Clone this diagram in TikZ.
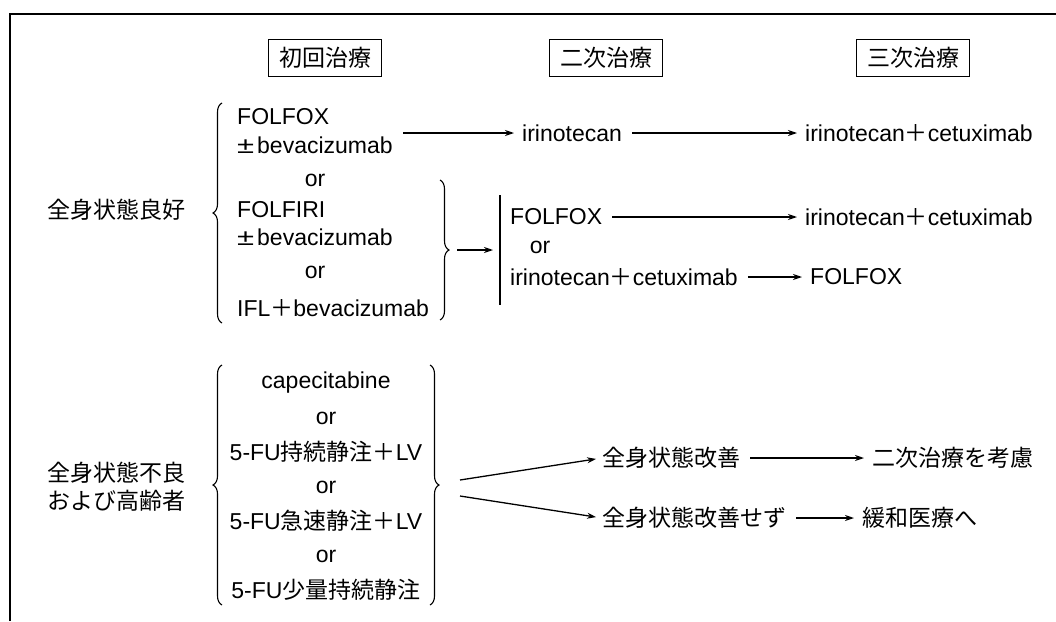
\documentclass[tikz,border=0pt]{standalone}
\usepackage{fontspec}
\usepackage{graphicx}
\setmainfont{Liberation Sans}
\newfontfamily\jp{Noto Sans CJK JP}
\usetikzlibrary{arrows.meta,decorations.pathreplacing}
\newcommand{\pls}{{\jp ＋}}
\newcommand{\pmw}{\makebox[20pt][l]{\scalebox{1.35}[1]{±}}}
\begin{document}
\begin{tikzpicture}[x=1pt,y=-1pt,
  base/.style={inner sep=0pt, font=\fontsize{23}{27}\selectfont},
  lbl/.style={base, anchor=west},
  ctr/.style={base},
  jtext/.style={inner sep=0pt, font=\jp\fontsize{23}{28}\selectfont},
  jlbl/.style={jtext, anchor=west},
  hdr/.style={draw, line width=1.1pt, font=\jp\fontsize{23}{27}\selectfont, minimum width=113pt, minimum height=37pt, inner sep=0pt},
  conn/.style={line width=1.3pt, -{Stealth[length=9pt,width=6pt]}},
  brc/.style={line width=1.1pt, decorate, decoration={brace, amplitude=9pt}},
  rulel/.style={line width=1.2pt}
]
\useasboundingbox (0,0) rectangle (1056,621);
% frame
\coordinate (fb) at (10,621);
\coordinate (fc) at (10,14);
\coordinate (fr) at (1056,14);
\draw[line width=1.5pt] (fb) -- (fc) -- (fr);

% headers
\node[hdr] (h1) at (325,58) {初回治療};
\node[hdr] (h2) at (606,58) {二次治療};
\node[hdr] (h3) at (913,58) {三次治療};

% group 1
\node[jtext] (g1) at (116,210) {全身状態良好};
\node[lbl] (a1) at (237,117) {FOLFOX};
\node[lbl] (a2) at (237,145) {\pmw bevacizumab};
\node[ctr] (or1) at (315,180) {or};
\node[lbl] (a3) at (237,210) {FOLFIRI};
\node[lbl] (a4) at (237,237) {\pmw bevacizumab};
\node[ctr] (or2) at (315,272) {or};
\node[lbl] (a5) at (237,308) {IFL\pls bevacizumab};
\coordinate (b1s) at (222,323);
\coordinate (b1e) at (222,103);
\draw[brc] (b1s) -- (b1e);

% row 1
\coordinate (p1) at (403,133);
\node[lbl] (r1b) at (522,133) {irinotecan};
\node[lbl] (r1c) at (805,133) {irinotecan\pls cetuximab};
\draw[conn, shorten >=8pt] (p1) -- (r1b.west);
\draw[conn, shorten <=10pt, shorten >=8pt] (r1b.east) -- (r1c.west);

% brace 2 and sub rows
\coordinate (b2s) at (440,180);
\coordinate (b2e) at (440,320);
\draw[brc] (b2s) -- (b2e);
\coordinate (b2tip) at (457,250);
\coordinate (barmid) at (493,250);
\draw[conn] (b2tip) -- (barmid);
\coordinate (bart) at (500,195);
\coordinate (barb) at (500,305);
\draw[rulel] (bart) -- (barb);
\node[lbl] (s1) at (510,217) {FOLFOX};
\node[ctr] (sor) at (540,247) {or};
\node[lbl] (s3) at (510,277) {irinotecan\pls cetuximab};
\node[lbl] (t2) at (805,217) {irinotecan\pls cetuximab};
\node[lbl] (t3) at (810,277) {FOLFOX};
\draw[conn, shorten <=10pt, shorten >=8pt] (s1.east) -- (t2.west);
\draw[conn, shorten <=10pt, shorten >=8pt] (s3.east) -- (t3.west);

% group 2
\node[jtext, align=center] (g2) at (116,487) {全身状態不良\\および高齢者};
\node[ctr] (c1) at (326,383) {capecitabine};
\node[ctr] (c2) at (326,418) {or};
\node[ctr] (c3) at (326,452) {5-FU{\jp 持続静注}\pls LV};
\node[ctr] (c4) at (326,487) {or};
\node[ctr] (c5) at (326,521) {5-FU{\jp 急速静注}\pls LV};
\node[ctr] (c6) at (326,556) {or};
\node[ctr] (c7) at (326,590) {5-FU{\jp 少量持続静注}};
\coordinate (b3s) at (222,605);
\coordinate (b3e) at (222,365);
\draw[brc] (b3s) -- (b3e);
\coordinate (b4s) at (430,365);
\coordinate (b4e) at (430,605);
\draw[brc] (b4s) -- (b4e);

\coordinate (f1) at (460,480);
\coordinate (f2) at (460,496);
\node[jlbl] (i1) at (602,458) {全身状態改善};
\node[jlbl] (i2) at (602,518) {全身状態改善せず};
\node[jlbl] (j1) at (872,458) {二次治療を考慮};
\node[jlbl] (j2) at (862,518) {緩和医療へ};
\draw[conn, shorten >=6pt] (f1) -- (i1.west);
\draw[conn, shorten >=6pt] (f2) -- (i2.west);
\draw[conn, shorten <=10pt, shorten >=8pt] (i1.east) -- (j1.west);
\draw[conn, shorten <=10pt, shorten >=8pt] (i2.east) -- (j2.west);
\end{tikzpicture}
\end{document}
